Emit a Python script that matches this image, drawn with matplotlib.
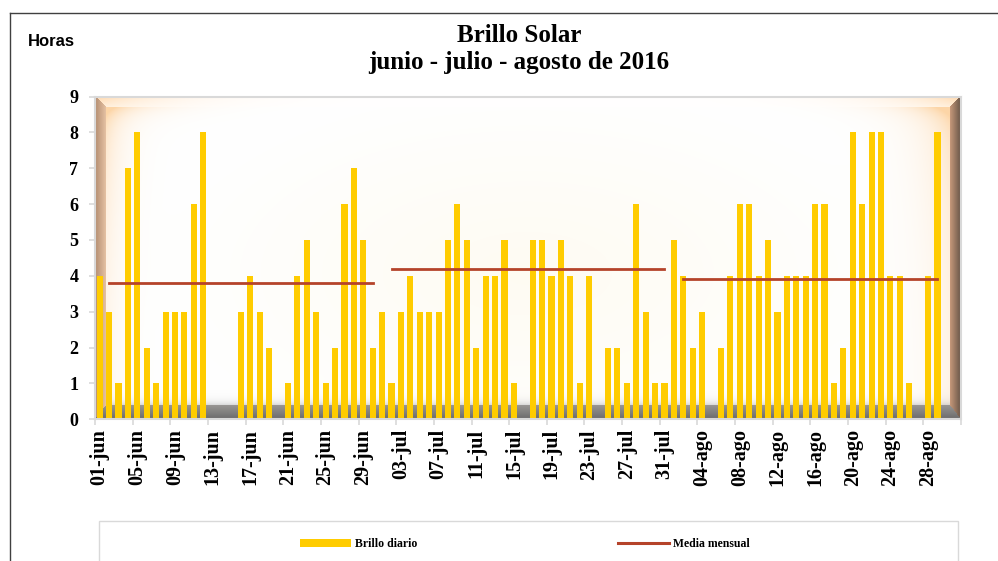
#!/usr/bin/env python3
"""Brillo solar diario, junio - agosto 2016, con la media mensual."""

import matplotlib
import numpy as np
import pandas as pd

matplotlib.use("Agg")
import matplotlib.pyplot as plt
from matplotlib.lines import Line2D
from matplotlib.patches import Patch, Rectangle

# horas de brillo solar por dia (nan = sin dato)
brillo_junio = [4, 3, 1, 7, 8, 2, 1, 3, 3, 3, 6, 8, 0, 0, 0, 3, 4, 3, 2, 0,
                1, 4, 5, 3, 1, 2, 6, 7, 5, 2]
brillo_julio = [3, 1, 3, 4, 3, 3, 3, 5, 6, 5, 2, 4, 4, 5, 1, 0, 5, 5, 4, 5,
                4, 1, 4, 0, 2, 2, 1, 6, 3, 1, 1]
brillo_agosto = [5, 4, 2, 3, 0, 2, 4, 6, 6, 4, 5, 3, 4, 4, 4, 6, 6, 1, 2, 8,
                 6, 8, 8, 4, 4, 1, 0, 4, 8, np.nan, np.nan]

# media mensual y dias que cubre la linea en cada mes
media_mensual = [3.8, 4.2, 3.9]
media_desde = [2, 2, 2]
media_hasta = [30, 31, 29]
meses = [6, 7, 8]
meses_abr = {6: "jun", 7: "jul", 8: "ago"}

dias = pd.date_range("2016-06-01", "2016-08-31", freq="D")
etiquetas = [f"{d.day:02d}-{meses_abr[d.month]}" for d in dias]
brillo = np.array(brillo_junio + brillo_julio + brillo_agosto, dtype=float)

media = np.full(len(dias), np.nan)
for mes, val, d0, d1 in zip(meses, media_mensual, media_desde, media_hasta):
    sel = (dias.month == mes) & (dias.day >= d0) & (dias.day <= d1)
    media[sel] = val

AMARILLO = "#FFCC00"
ROJO = "#B5432A"
GRIS = "#D9D9D9"
SERIF = "Liberation Serif"


def fondo(h: int, w: int) -> np.ndarray:
    """Plot-area background: bevelled frame with warm glow at the sides."""
    v, u = np.mgrid[0:h, 0:w] + 0.5
    img = np.ones((h, w, 3))

    # faint cream in the middle
    r = np.sqrt(((u - w / 2) / (w * 0.45)) ** 2 + ((v - h * 0.55) / (h * 0.6)) ** 2)
    wc = np.clip(1 - r, 0, 1) * 0.5
    img = img * (1 - wc[..., None]) + np.array([1.0, 0.97, 0.90]) * wc[..., None]

    peach = np.array([0.99, 0.82, 0.62])
    topw = np.exp(-v / 100)
    gl = 0.7 * np.exp(-np.clip(u - 11, 0, None) / 16) * (0.25 + 0.75 * topw)
    gr = 0.75 * np.exp(-np.clip(w - u - 11, 0, None) / 26) * (0.3 + 0.7 * topw)
    cl = np.exp(-np.clip(v - 11, 0, None) / 9) * np.exp(-np.clip(u - 11, 0, None) / 45)
    cr = np.exp(-np.clip(v - 11, 0, None) / 9) * np.exp(-np.clip(w - u - 11, 0, None) / 45)
    g = np.clip(gl + gr + 0.7 * (cl + cr), 0, 0.9)
    img = img * (1 - g[..., None]) + peach * g[..., None]

    # soft grey shadow above the bottom strip
    hb = h - v
    gb = 0.4 * np.exp(-np.clip(hb - 14, 0, None) / 4)
    img = img * (1 - gb[..., None]) + np.array([0.62, 0.62, 0.62]) * gb[..., None]

    b = 11.0
    d = np.stack([u, w - u, v, hb * b / 14.0])
    side = np.argmin(d, axis=0)
    dmin = np.min(d, axis=0)
    t = np.clip(dmin / b, 0, 1)[..., None]
    corner = np.clip(np.exp(-u / 60) + np.exp(-(w - u) / 60), 0, 1)[..., None]
    top_out = np.array([1.0, 0.84, 0.66]) * corner + np.array([1.0, 1.0, 1.0]) * (1 - corner)
    top_in = np.array([1.0, 0.93, 0.84]) * corner + np.array([1.0, 1.0, 1.0]) * (1 - corner)
    cols = [
        (np.array([0.70, 0.55, 0.44]), np.array([0.90, 0.76, 0.64])),
        (np.array([0.40, 0.33, 0.28]), np.array([0.78, 0.60, 0.48])),
        (top_out, top_in),
        (np.array([0.42, 0.42, 0.42]), np.array([0.60, 0.59, 0.58])),
    ]
    for k, (c_out, c_in) in enumerate(cols):
        m = (side == k) & (dmin < b)
        c = np.broadcast_to(c_out * (1 - t) + c_in * t, img.shape)
        img[m] = c[m]
    return np.clip(img, 0, 1)


fig = plt.figure(figsize=(9.98, 5.61), dpi=100)

pos = [95 / 998, 1 - 419.3 / 561, 866 / 998, 322.8 / 561]
ax_bg = fig.add_axes(pos, zorder=0)
ax_bg.imshow(fondo(323, 866), aspect="auto", interpolation="bilinear", extent=(0, 1, 0, 1))
ax_bg.set_axis_off()

ax = fig.add_axes(pos, zorder=1)
ax.set_facecolor("none")
x = np.arange(len(dias))
ax.bar(x, brillo, width=0.65, color=AMARILLO, zorder=2)
ax.plot(x, media, color=ROJO, lw=2.0, zorder=3)

ax.set_xlim(-0.5, len(dias) - 0.5)
ax.set_ylim(0, 9)
ax.set_yticks(range(0, 10))
ax.set_xticks(x[::4])
ax.set_xticklabels(etiquetas[::4], rotation=90)
ax.set_xticks(np.arange(-0.5, len(dias), 4), minor=True)
ax.tick_params(axis="x", which="major", length=0, pad=7)
ax.tick_params(axis="x", which="minor", length=4, color=GRIS, width=1.2)
ax.tick_params(axis="y", length=4, color=GRIS, width=1.2, pad=8)
for lab in ax.get_yticklabels():
    lab.set_fontfamily(SERIF)
    lab.set_fontweight("bold")
    lab.set_fontsize(13)
for lab in ax.get_xticklabels():
    lab.set_fontfamily(SERIF)
    lab.set_fontweight("bold")
    lab.set_fontsize(14.5)
for sp in ax.spines.values():
    sp.set_color(GRIS)
    sp.set_linewidth(1.5)

fig.text(0.52, 1 - 35 / 561, "Brillo Solar", ha="center", va="center",
         family=SERIF, weight="bold", fontsize=18)
fig.text(0.52, 1 - 63 / 561, "junio - julio - agosto de 2016", ha="center", va="center",
         family=SERIF, weight="bold", fontsize=18)
fig.text(28 / 998, 1 - 42 / 561, "Horas", ha="left", va="center",
         family="Liberation Sans", weight="bold", fontsize=12)

# outer chart border (partly visible)
fig.add_artist(Line2D([10 / 998, 10 / 998], [0, 1 - 13 / 561], color="#404040", lw=1,
                      transform=fig.transFigure))
fig.add_artist(Line2D([10 / 998, 1], [1 - 13 / 561, 1 - 13 / 561], color="#404040", lw=1,
                      transform=fig.transFigure))

# legend box
fig.add_artist(Rectangle((99 / 998, -0.05), (958 - 99) / 998, 0.05 + 1 - 521 / 561,
                         transform=fig.transFigure, facecolor="white", edgecolor=GRIS, lw=1))
prop = {"family": SERIF, "weight": "bold", "size": 8.5}
fig.legend(handles=[Patch(facecolor=AMARILLO)], labels=["Brillo diario"],
           loc="center left", bbox_to_anchor=(300 / 998, 1 - 544 / 561), frameon=False,
           handlelength=4.3, handleheight=0.7, handletextpad=0.35, borderpad=0,
           borderaxespad=0, prop=prop)
fig.legend(handles=[Line2D([], [], color=ROJO, lw=2.2)], labels=["Media mensual"],
           loc="center left", bbox_to_anchor=(618 / 998, 1 - 544 / 561), frameon=False,
           handlelength=4.3, handletextpad=0.35, borderpad=0, borderaxespad=0, prop=prop)

fig.savefig("out.png", dpi=100)
plt.close(fig)
